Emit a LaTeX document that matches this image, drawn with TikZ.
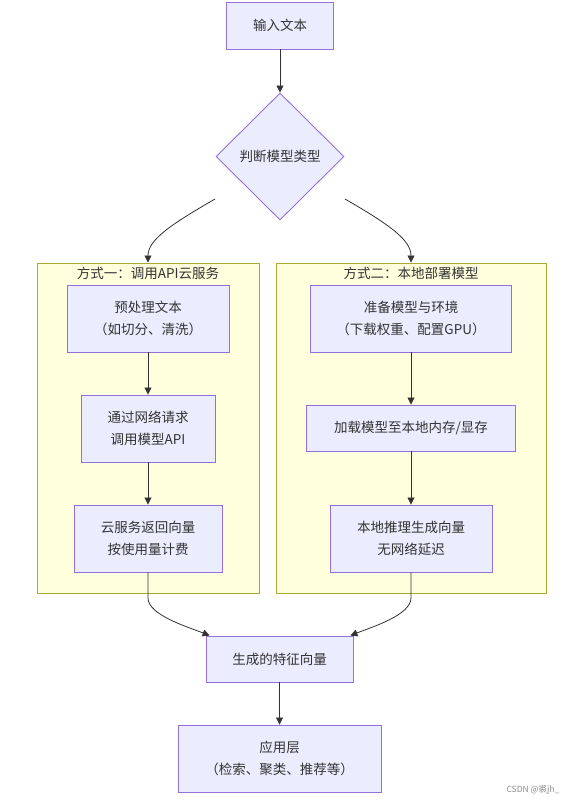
\documentclass[tikz,border=0pt]{standalone}
\usepackage{fontspec}
\setmainfont{Noto Sans CJK SC}
\usetikzlibrary{arrows.meta,shapes.geometric,calc}
\definecolor{nfill}{HTML}{ECECFF}
\definecolor{nline}{HTML}{9370DB}
\definecolor{cfill}{HTML}{FFFFDE}
\definecolor{cline}{HTML}{AAAA33}
\definecolor{ink}{HTML}{333333}
\begin{document}
\begin{tikzpicture}[x=1pt,y=-1pt,
  box/.style={draw=nline, fill=nfill, line width=0.9pt, text=ink,
    font=\fontsize{13.5}{22}\selectfont, align=center, inner sep=0pt},
  dia/.style={box, shape=diamond, aspect=1},
  clus/.style={draw=cline, fill=cfill, line width=0.9pt, inner sep=0pt},
  ctitle/.style={text=ink, font=\fontsize{13.5}{16}\selectfont, inner sep=0pt},
  arr/.style={draw=ink, line width=0.8pt, -{Triangle[length=7pt,width=7pt]}},
  wm/.style={text=black!45, font=\fontsize{8.5}{10}\selectfont, inner sep=0pt}]
\useasboundingbox (0,0) rectangle (565,804);
\fill[white] (0,0) rectangle (565,804);

% clusters
\node[clus, minimum width=222pt, minimum height=330pt] (cl1) at (148,428) {};
\node[clus, minimum width=270pt, minimum height=330pt] (cl2) at (411,428) {};
\node[ctitle] (t1) at (148,273) {方式一：调用API云服务};
\node[ctitle] (t2) at (411,273) {方式二：本地部署模型};

% nodes
\node[box, minimum width=107pt, minimum height=47pt] (n1) at (280,25.5) {输入文本};
\node[dia, minimum width=128pt, minimum height=127pt] (d) at (280,156.5) {判断模型类型};

\node[box, minimum width=162pt, minimum height=67pt] (a1) at (148,318.5) {预处理文本\\（如切分、清洗）};
\node[box, minimum width=134pt, minimum height=67pt] (a2) at (148,428.5) {通过网络请求\\调用模型API};
\node[box, minimum width=148pt, minimum height=67pt] (a3) at (148,538.5) {云服务返回向量\\按使用量计费};

\node[box, minimum width=201pt, minimum height=67pt] (b1) at (411,318.5) {准备模型与环境\\（下载权重、配置GPU）};
\node[box, minimum width=209pt, minimum height=46pt] (b2) at (411,428) {加载模型至本地内存/显存};
\node[box, minimum width=162pt, minimum height=67pt] (b3) at (411,538.5) {本地推理生成向量\\无网络延迟};

\node[box, minimum width=147pt, minimum height=46pt] (g) at (279.5,659) {生成的特征向量};
\node[box, minimum width=203pt, minimum height=67pt] (app) at (279.5,758.5) {应用层\\（检索、聚类、推荐等）};

\node[wm] (wmk) at (533,790) {CSDN @裘jh\_};

% connectors
\draw[arr] (n1.south) -- (d.north);
\coordinate (l0) at (215,199);
\coordinate (r0) at (345,199);
\draw[arr] (l0) .. controls (170,225) and (148,240) .. (cl1.north);
\draw[arr] (r0) .. controls (390,225) and (411,240) .. (cl2.north);

\draw[arr] (a1.south) -- (a2.north);
\draw[arr] (a2.south) -- (a3.north);
\draw[arr] (b1.south) -- (b2.north);
\draw[arr] (b2.south) -- (b3.north);

\coordinate (gl) at ($(g.north west)+(4,0)$);
\coordinate (gr) at ($(g.north east)+(-3,0)$);
\coordinate (lm) at (148,598);
\coordinate (rm) at (411,598);
\draw[arr] (a3.south) -- (lm) .. controls (148,615) and (188,627) .. (gl);
\draw[arr] (b3.south) -- (rm) .. controls (411,615) and (372,627) .. (gr);

\draw[arr] (g.south) -- (app.north);
\end{tikzpicture}
\end{document}
